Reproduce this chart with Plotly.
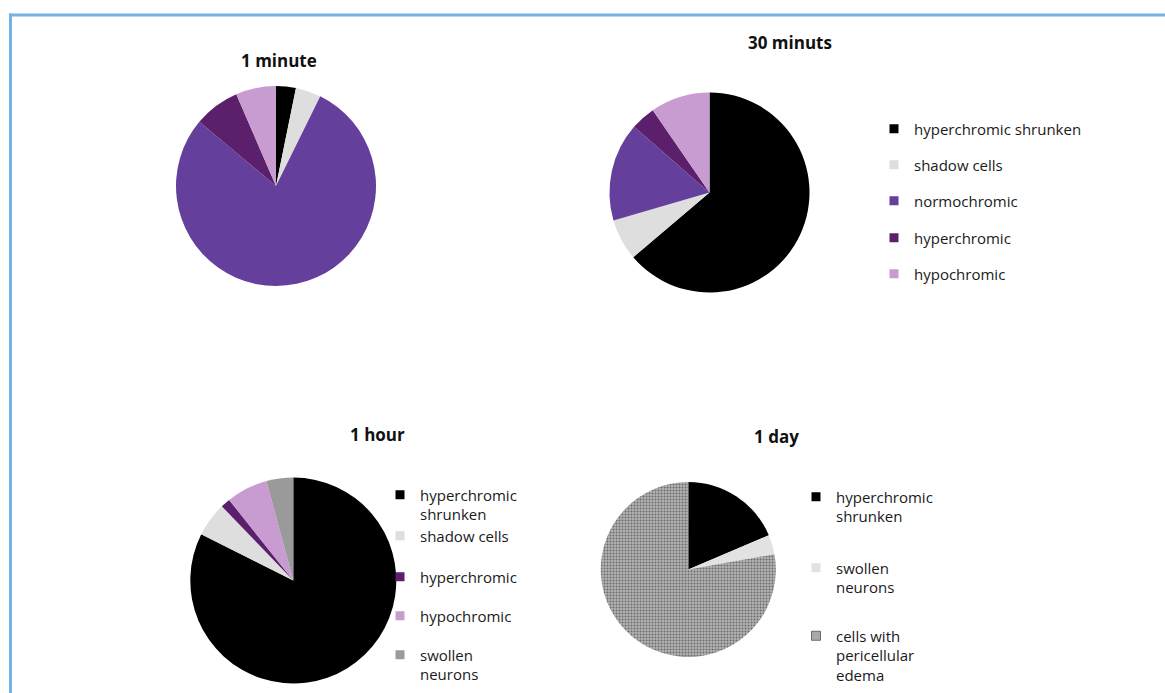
import plotly.graph_objects as go

W, H = 1165, 693

# ---------------- data ----------------
titles = ["1 minute", "30 minuts", "1 hour", "1 day"]

labels_1min = ["hyperchromic shrunken", "shadow cells", "normochromic", "hyperchromic", "hypochromic"]
values_1min = [3.2, 4.1, 78.8, 7.4, 6.5]

labels_30min = ["hyperchromic shrunken", "shadow cells", "normochromic", "hyperchromic", "hypochromic"]
values_30min = [63.8, 6.7, 15.9, 4.0, 9.6]

labels_1hour = ["hyperchromic shrunken", "shadow cells", "hyperchromic", "hypochromic", "swollen neurons"]
values_1hour = [82.4, 5.4, 1.5, 6.5, 4.2]

labels_1day = ["hyperchromic shrunken", "swollen neurons", "cells with pericellular edema"]
values_1day = [18.6, 3.6, 77.8]

legend_30min = ["hyperchromic shrunken", "shadow cells", "normochromic", "hyperchromic", "hypochromic"]
legend_1hour = ["hyperchromic<br>shrunken", "shadow cells", "hyperchromic", "hypochromic", "swollen<br>neurons"]
legend_1day = ["hyperchromic<br>shrunken", "swollen<br>neurons", "cells with<br>pericellular<br>edema"]

# ---------------- styles ----------------
C_BLACK = "#000000"
C_SHADOW = "#dedede"
C_NORMO = "#653f9c"
C_HYPER = "#5b1f6b"
C_HYPO = "#c89bd1"
C_SWOLLEN = "#9a9a9a"
C_EDEMA = "#a9a9a9"

colors_1min = [C_BLACK, C_SHADOW, C_NORMO, C_HYPER, C_HYPO]
colors_30min = [C_BLACK, C_SHADOW, C_NORMO, C_HYPER, C_HYPO]
colors_1hour = [C_BLACK, C_SHADOW, C_HYPER, C_HYPO, C_SWOLLEN]
colors_1day = [C_BLACK, "#e2e2e2", "#b0b0b0"]


def dom(cx, cy, r):
    return dict(x=[(cx - r) / W, (cx + r) / W], y=[1 - (cy + r) / H, 1 - (cy - r) / H])


fig = go.Figure()

pies = [
    (labels_1min, values_1min, colors_1min, dom(276, 186, 100), None),
    (labels_30min, values_30min, colors_30min, dom(709.5, 192.5, 100), None),
    (labels_1hour, values_1hour, colors_1hour, dom(293.3, 580.5, 103), None),
    (labels_1day, values_1day, colors_1day, dom(688.3, 569.5, 87.5),
     dict(shape=["", "", "."], fgcolor="#6a6a6a", bgcolor="#b3b3b3", size=3, solidity=0.35)),
]
for labs, vals, cols, d, pat in pies:
    marker = dict(colors=cols, line=dict(width=0))
    if pat:
        marker["pattern"] = pat
    fig.add_trace(go.Pie(labels=labs, values=vals, marker=marker, domain=d,
                         sort=False, direction="clockwise", rotation=0,
                         textinfo="none", showlegend=False))

# ---------------- legends (one per entry for exact placement) ----------------
leg_font = dict(family="Open Sans", size=15, color="#1a1a1a")
entries = []
for lab, col, ty in zip(legend_30min, colors_30min, [128, 164, 200, 237, 273]):
    entries.append((lab, col, 914, ty))
for lab, col, ty in zip(legend_1hour, colors_1hour, [494, 535, 576, 615, 654]):
    entries.append((lab, col, 420, ty))
for lab, col, ty in zip(legend_1day, ["#000000", "#e2e2e2", C_EDEMA], [496, 567, 635]):
    entries.append((lab, col, 836, ty))

layout_legends = {}
for i, (lab, col, tx, ty) in enumerate(entries):
    name = "legend" if i == 0 else f"legend{i + 1}"
    line = dict(width=1, color="#6a6a6a") if col == C_EDEMA else dict(width=0)
    fig.add_trace(go.Scatter(x=[None], y=[None], mode="markers", name=lab,
                             marker=dict(symbol="square", size=9, color=col, line=line),
                             legend=name, showlegend=True, hoverinfo="skip"))
    layout_legends[name] = dict(x=(tx - 40) / W, xanchor="left", y=1 - (ty - 15.5) / H,
                                yanchor="top", valign="top", bgcolor="rgba(0,0,0,0)",
                                font=leg_font, itemsizing="trace")

# ---------------- titles ----------------
title_pos = [(279, 61), (790, 43), (377, 435), (776, 436)]
annotations = []
for t, (tx, ty) in zip(titles, title_pos):
    annotations.append(dict(text=f"<b>{t}</b>", x=tx / W, y=1 - ty / H, xref="paper", yref="paper",
                            xanchor="center", yanchor="middle", showarrow=False,
                            font=dict(family="Open Sans", size=17, color="#111111")))

# ---------------- frame ----------------
frame_col = "#74b2e8"
shapes = [
    dict(type="line", xref="paper", yref="paper", x0=10.5 / W, x1=10.5 / W, y0=0, y1=1 - 13.5 / H,
         line=dict(color=frame_col, width=3)),
    dict(type="line", xref="paper", yref="paper", x0=9 / W, x1=1, y0=1 - 15 / H, y1=1 - 15 / H,
         line=dict(color=frame_col, width=3)),
]

fig.update_layout(
    width=W, height=H, margin=dict(l=0, r=0, t=0, b=0),
    paper_bgcolor="white", plot_bgcolor="white",
    xaxis=dict(visible=False, domain=[0, 0.01]), yaxis=dict(visible=False, domain=[0, 0.01]),
    annotations=annotations, shapes=shapes,
    **layout_legends,
)

fig.write_html("out.html")
